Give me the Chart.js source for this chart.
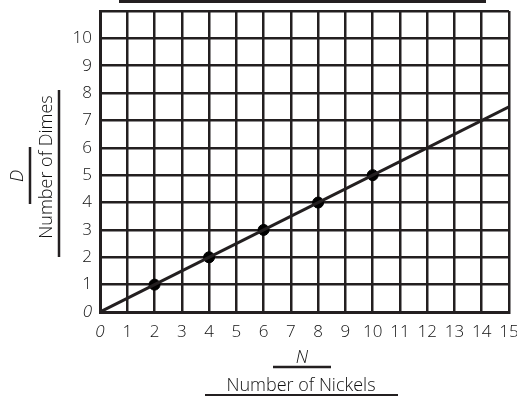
<!DOCTYPE html>
<html>
<head>
<meta charset="utf-8">
<script src="https://cdn.jsdelivr.net/npm/chart.js@4"></script>
<style>
  html, body { margin: 0; padding: 0; background: #fff; }
  #wrap { width: 517px; height: 396px; }
</style>
</head>
<body>
<div id="wrap"><canvas id="chart" width="517" height="396"></canvas></div>
<script>
// values
const nickels = [2, 4, 6, 8, 10];
const dimes = [1, 2, 3, 4, 5];
const lineNickels = [0, 15];
const lineDimes = [0, 7.5];
const xTitle = 'Number of Nickels';
const yTitle = 'Number of Dimes';
const xVar = 'N';
const yVar = 'D';

const ink = '#231f20';
const font = '"Open Sans", "DejaVu Sans", sans-serif';

// underlined titles, the blank title rule
const labelsPlugin = {
  id: 'labels',
  afterDraw(chart) {
    const c = chart.ctx;
    c.save();
    c.fillStyle = '#111';
    c.strokeStyle = ink;

    // blank title line on top
    c.lineWidth = 3;
    c.beginPath();
    c.moveTo(119, 1.5);
    c.lineTo(486, 1.5);
    c.stroke();

    c.textAlign = 'center';
    c.textBaseline = 'alphabetic';

    // x axis
    c.font = 'italic 300 18px ' + font;
    c.fillText(xVar, 302, 363);
    c.lineWidth = 2.5;
    c.beginPath();
    c.moveTo(273, 367);
    c.lineTo(331, 367);
    c.stroke();
    c.font = '300 18px ' + font;
    c.fillText(xTitle, 301, 391);
    c.lineWidth = 2;
    c.beginPath();
    c.moveTo(205, 395);
    c.lineTo(398, 395);
    c.stroke();

    // y axis
    c.save();
    c.translate(23, 176);
    c.rotate(-Math.PI / 2);
    c.font = 'italic 300 18px ' + font;
    c.fillText(yVar, 0, 0);
    c.restore();
    c.lineWidth = 2.5;
    c.beginPath();
    c.moveTo(30, 147);
    c.lineTo(30, 204);
    c.stroke();

    c.save();
    c.translate(52, 167);
    c.rotate(-Math.PI / 2);
    c.font = '300 18px ' + font;
    c.fillText(yTitle, 0, 0);
    c.restore();
    c.lineWidth = 2.5;
    c.beginPath();
    c.moveTo(59, 90);
    c.lineTo(59, 257);
    c.stroke();

    c.restore();
  }
};

const tickFont = (ctx) => ({
  family: font,
  size: 17,
  weight: 300,
  style: ctx.tick && ctx.tick.value === 0 ? 'italic' : 'normal'
});

new Chart(document.getElementById('chart'), {
  type: 'scatter',
  data: {
    datasets: [
      {
        type: 'line',
        data: lineNickels.map((x, i) => ({ x: x, y: lineDimes[i] })),
        borderColor: ink,
        borderWidth: 3,
        pointRadius: 0,
        fill: false
      },
      {
        data: nickels.map((x, i) => ({ x: x, y: dimes[i] })),
        backgroundColor: '#000',
        borderColor: '#000',
        pointRadius: 5.5
      }
    ]
  },
  options: {
    responsive: false,
    animation: false,
    layout: { padding: { left: 60, right: 8, top: 11, bottom: 0 } },
    plugins: {
      legend: { display: false },
      tooltip: { enabled: false }
    },
    scales: {
      x: {
        type: 'linear',
        min: 0,
        max: 15,
        afterFit: (s) => { s.height = 84; s.paddingLeft = 0; s.paddingRight = 0; },
        grid: { color: ink, lineWidth: 2.5, drawTicks: false },
        border: { color: ink, width: 3 },
        ticks: { stepSize: 1, color: '#111', font: tickFont, padding: 10 }
      },
      y: {
        type: 'linear',
        min: 0,
        max: 11,
        afterFit: (s) => { s.width = 40; s.paddingTop = 0; s.paddingBottom = 0; },
        grid: { color: ink, lineWidth: 2.5, drawTicks: false },
        border: { color: ink, width: 3 },
        ticks: {
          stepSize: 1,
          color: '#111',
          font: tickFont,
          padding: 8,
          callback: (v) => (v > 10 ? '' : v)
        }
      }
    }
  },
  plugins: [labelsPlugin]
});
</script>
</body>
</html>
